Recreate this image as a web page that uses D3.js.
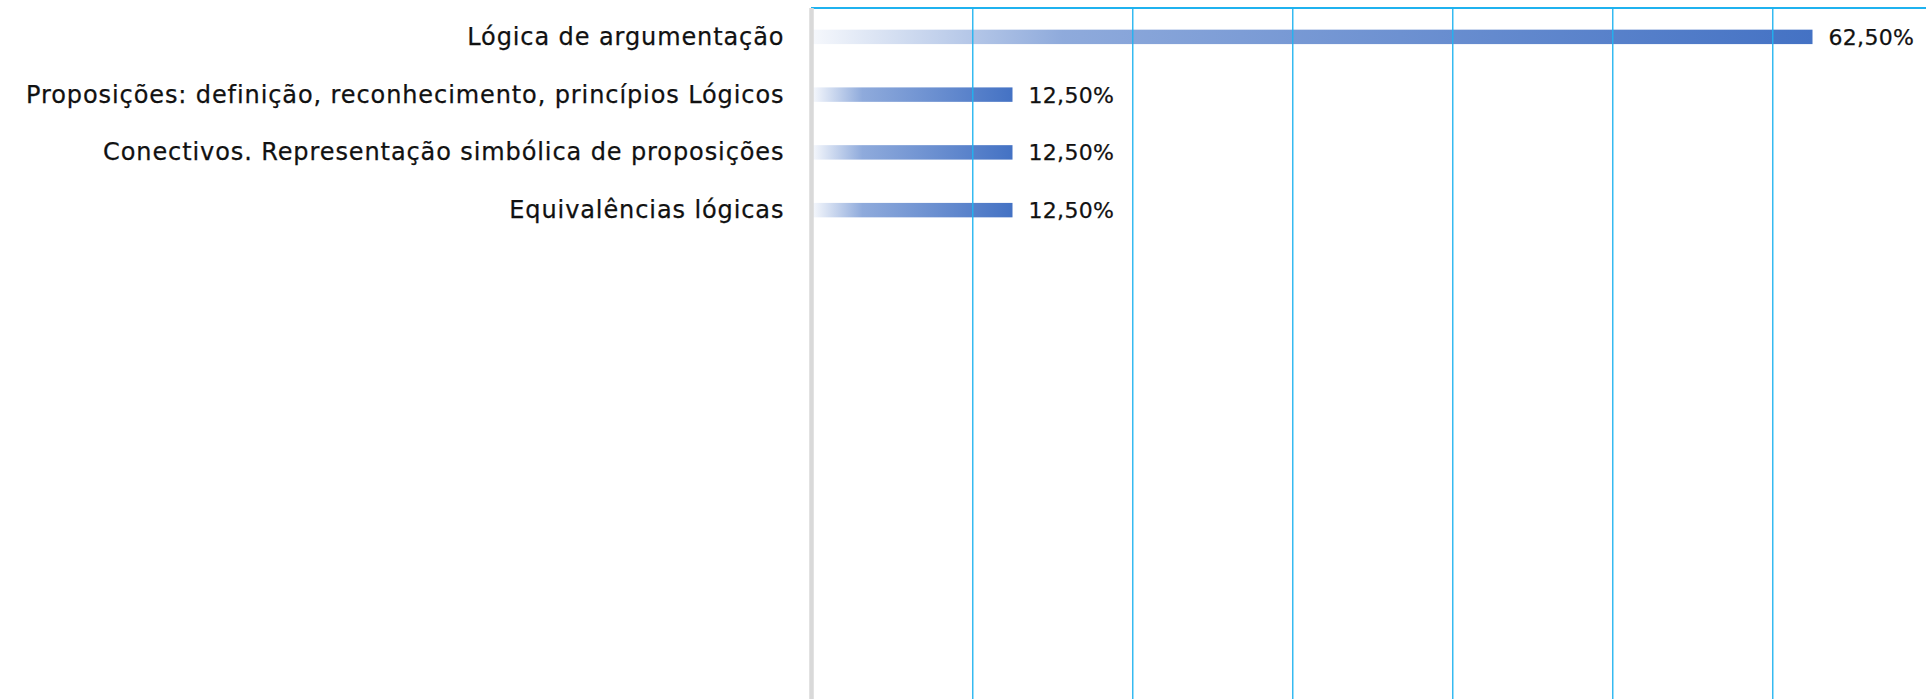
<!DOCTYPE html>
<html>
<head>
<meta charset="utf-8">
<script src="https://cdn.jsdelivr.net/npm/d3@7"></script>
<style>
  html, body { margin: 0; padding: 0; background: #ffffff; }
  body { width: 1926px; height: 699px; overflow: hidden; }
  text { font-family: "DejaVu Sans", sans-serif; fill: #111111; stroke: #111111; stroke-width: 0.25px; }
</style>
</head>
<body>
<div class="wrapper"></div>
<script>
// chart data

var categories = [
    "Lógica de argumentação",
    "Proposições: definição, reconhecimento, princípios Lógicos",
    "Conectivos. Representação simbólica de proposições",
    "Equivalências lógicas"
];
var values = [0.625, 0.125, 0.125, 0.125];
var valueLabels = ["62,50%", "12,50%", "12,50%", "12,50%"];
var gridTicks = [0.1, 0.2, 0.3, 0.4, 0.5, 0.6, 0.7];

var svgWidth = 1926;
var svgHeight = 699;
var x0 = 812.5;
var topY = 8;

var svg = d3.select(".wrapper").append("svg").attr("width", svgWidth).attr("height", svgHeight);

var x = d3.scaleLinear().domain([0, 0.7]).range([x0, x0 + 1120]);
var y = d3.scaleBand().domain(categories).range([topY, topY + 231]).paddingInner(0.75).paddingOuter(0.375);

// gradient for the bars
var grad = svg.append("defs").append("linearGradient")
    .attr("id", "barGrad")
    .attr("x1", "0").attr("x2", "1").attr("y1", "0").attr("y2", "0");
grad.append("stop").attr("offset", "0").attr("stop-color", "#4472c4").attr("stop-opacity", 0.05);
grad.append("stop").attr("offset", "0.25").attr("stop-color", "#4472c4").attr("stop-opacity", 0.6);
grad.append("stop").attr("offset", "1").attr("stop-color", "#4472c4").attr("stop-opacity", 1);

// bars
svg.selectAll("rect.bar")
    .data(values)
    .enter()
    .append("rect")
    .attr("class", "bar")
    .attr("x", x(0))
    .attr("y", function(d, i) { return y(categories[i]); })
    .attr("width", function(d) { return x(d) - x(0); })
    .attr("height", y.bandwidth())
    .attr("fill", "url(#barGrad)");

// vertical grid, drawn over the bars
svg.selectAll("line.grid")
    .data(gridTicks)
    .enter()
    .append("line")
    .attr("class", "grid")
    .attr("x1", function(d) { return Math.round(x(d)) - 0.25; })
    .attr("x2", function(d) { return Math.round(x(d)) - 0.25; })
    .attr("y1", topY)
    .attr("y2", svgHeight)
    .attr("stroke", "#1fb2ef")
    .attr("stroke-opacity", 0.9)
    .attr("stroke-width", 1.5);

// top line
svg.append("line")
    .attr("x1", x0 - 1.5).attr("x2", svgWidth)
    .attr("y1", topY).attr("y2", topY)
    .attr("stroke", "#1fb2ef")
    .attr("stroke-width", 2);

// left axis line
svg.append("line")
    .attr("x1", x0 - 1).attr("x2", x0 - 1)
    .attr("y1", topY).attr("y2", svgHeight)
    .attr("stroke", "#d9d9d9")
    .attr("stroke-width", 4.5);

// category labels
svg.selectAll("text.cat")
    .data(categories)
    .enter()
    .append("text")
    .attr("class", "cat")
    .attr("x", x0 - 29 + 0.9)
    .attr("y", function(d) { return y(d) + y.bandwidth() / 2 + 8; })
    .attr("text-anchor", "end")
    .style("font-size", "24px")
    .style("letter-spacing", "0.9px")
    .text(function(d) { return d; });

// value labels
svg.selectAll("text.val")
    .data(values)
    .enter()
    .append("text")
    .attr("class", "val")
    .attr("x", function(d) { return x(d) + 16; })
    .attr("y", function(d, i) { return y(categories[i]) + y.bandwidth() / 2 + 8; })
    .style("font-size", "22px")
    .style("letter-spacing", "0.3px")
    .text(function(d, i) { return valueLabels[i]; });
</script>
</body>
</html>
